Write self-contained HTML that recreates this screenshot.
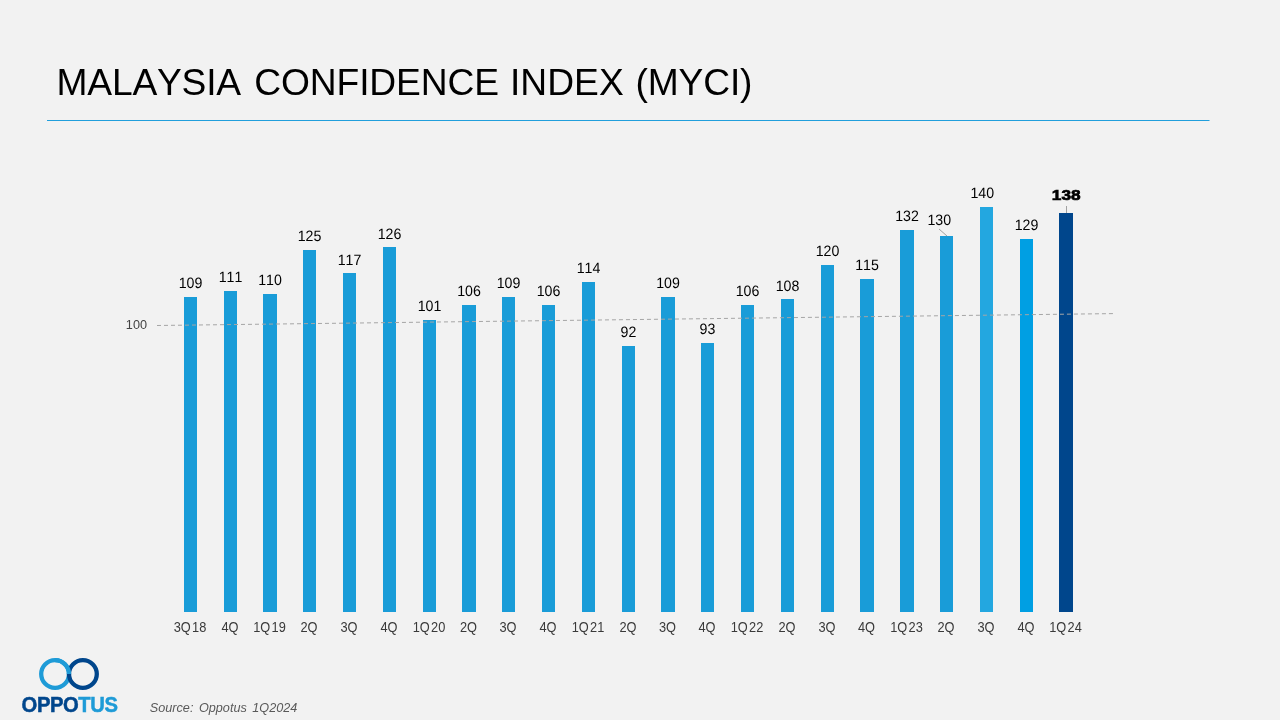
<!DOCTYPE html>
<html><head><meta charset="utf-8"><title>Malaysia Confidence Index (MYCI)</title>
<style>
html,body{margin:0;padding:0;background:#f2f2f2;}
body{width:1280px;height:720px;overflow:hidden;position:relative;font-family:"Liberation Sans",Arial,sans-serif;}
svg{position:absolute;left:0;top:0;display:block}
text{font-family:"Liberation Sans",Arial,sans-serif;font-kerning:none;}
.v{text-rendering:geometricPrecision;font-size:15px;fill:#000;text-anchor:middle}
.vb{font-size:15.4px;font-weight:bold;fill:#000;stroke:#000;stroke-width:0.7px;text-anchor:middle}
.x{font-size:14px;fill:#3a3a3a;text-anchor:middle}
</style></head><body>
<svg width="1280" height="720" viewBox="0 0 1280 720">
<rect width="1280" height="720" fill="#f2f2f2"/>
<text x="56.55" y="95" font-size="37.2" fill="#000"><tspan letter-spacing="-0.2">MALAYSIA</tspan><tspan dx="3.05" letter-spacing="-0.11"> CONFIDENCE</tspan><tspan dx="0.7"> INDEX</tspan><tspan dx="1.6" letter-spacing="-0.15"> (MYCI)</tspan></text>
<rect x="47" y="120" width="1162.5" height="1" fill="#219fdc"/>

<rect x="184" y="297" width="13" height="315" fill="#199cd8"/>
<rect x="224" y="291" width="13" height="321" fill="#199cd8"/>
<rect x="263" y="294" width="14" height="318" fill="#199cd8"/>
<rect x="303" y="250" width="13" height="362" fill="#199cd8"/>
<rect x="343" y="273" width="13" height="339" fill="#199cd8"/>
<rect x="383" y="247" width="13" height="365" fill="#199cd8"/>
<rect x="423" y="320" width="13" height="292" fill="#199cd8"/>
<rect x="462" y="305" width="14" height="307" fill="#199cd8"/>
<rect x="502" y="297" width="13" height="315" fill="#199cd8"/>
<rect x="542" y="305" width="13" height="307" fill="#199cd8"/>
<rect x="582" y="282" width="13" height="330" fill="#199cd8"/>
<rect x="622" y="346" width="13" height="266" fill="#199cd8"/>
<rect x="661" y="297" width="14" height="315" fill="#199cd8"/>
<rect x="701" y="343" width="13" height="269" fill="#199cd8"/>
<rect x="741" y="305" width="13" height="307" fill="#199cd8"/>
<rect x="781" y="299" width="13" height="313" fill="#199cd8"/>
<rect x="821" y="265" width="13" height="347" fill="#199cd8"/>
<rect x="860" y="279" width="14" height="333" fill="#199cd8"/>
<rect x="900" y="230" width="14" height="382" fill="#199cd8"/>
<rect x="940" y="236" width="13" height="376" fill="#199cd8"/>
<rect x="980" y="207" width="13" height="405" fill="#23a7e0"/>
<rect x="1020" y="239" width="13" height="373" fill="#009fe3"/>
<rect x="1059" y="213" width="14" height="399" fill="#00468c"/>
<line x1="157" y1="325.5" x2="1113" y2="313.6" stroke="#a6a6a6" stroke-width="1" stroke-dasharray="4 3"/>
<line x1="939" y1="229" x2="947" y2="236" stroke="#8c8c8c" stroke-width="0.8"/>
<line x1="1066.5" y1="206" x2="1066.5" y2="213" stroke="#8c8c8c" stroke-width="0.8"/>
<text class="v" transform="translate(190.5 287.72) scale(0.945 1)">109</text>
<text class="x" transform="translate(190.0 632) scale(0.915 1)">3Q<tspan dx="1.5">18</tspan></text>
<text class="v" transform="translate(230.5 281.94) scale(0.945 1)">111</text>
<text class="x" transform="translate(230.0 632) scale(0.915 1)">4Q</text>
<text class="v" transform="translate(270.0 284.83) scale(0.945 1)">110</text>
<text class="x" transform="translate(269.5 632) scale(0.915 1)">1Q<tspan dx="1.5">19</tspan></text>
<text class="v" transform="translate(309.5 241.42) scale(0.945 1)">125</text>
<text class="x" transform="translate(309.0 632) scale(0.915 1)">2Q</text>
<text class="v" transform="translate(349.5 264.57) scale(0.945 1)">117</text>
<text class="x" transform="translate(349.0 632) scale(0.915 1)">3Q</text>
<text class="v" transform="translate(389.5 238.53) scale(0.945 1)">126</text>
<text class="x" transform="translate(389.0 632) scale(0.915 1)">4Q</text>
<text class="v" transform="translate(429.5 310.88) scale(0.945 1)">101</text>
<text class="x" transform="translate(429.0 632) scale(0.915 1)">1Q<tspan dx="1.5">20</tspan></text>
<text class="v" transform="translate(469.0 296.41) scale(0.945 1)">106</text>
<text class="x" transform="translate(468.5 632) scale(0.915 1)">2Q</text>
<text class="v" transform="translate(508.5 287.72) scale(0.945 1)">109</text>
<text class="x" transform="translate(508.0 632) scale(0.915 1)">3Q</text>
<text class="v" transform="translate(548.5 296.41) scale(0.945 1)">106</text>
<text class="x" transform="translate(548.0 632) scale(0.915 1)">4Q</text>
<text class="v" transform="translate(588.5 273.25) scale(0.945 1)">114</text>
<text class="x" transform="translate(588.0 632) scale(0.915 1)">1Q<tspan dx="1.5">21</tspan></text>
<text class="v" transform="translate(628.5 336.92) scale(0.945 1)">92</text>
<text class="x" transform="translate(628.0 632) scale(0.915 1)">2Q</text>
<text class="v" transform="translate(668.0 287.72) scale(0.945 1)">109</text>
<text class="x" transform="translate(667.5 632) scale(0.915 1)">3Q</text>
<text class="v" transform="translate(707.5 334.03) scale(0.945 1)">93</text>
<text class="x" transform="translate(707.0 632) scale(0.915 1)">4Q</text>
<text class="v" transform="translate(747.5 296.41) scale(0.945 1)">106</text>
<text class="x" transform="translate(747.0 632) scale(0.915 1)">1Q<tspan dx="1.5">22</tspan></text>
<text class="v" transform="translate(787.5 290.62) scale(0.945 1)">108</text>
<text class="x" transform="translate(787.0 632) scale(0.915 1)">2Q</text>
<text class="v" transform="translate(827.5 255.89) scale(0.945 1)">120</text>
<text class="x" transform="translate(827.0 632) scale(0.915 1)">3Q</text>
<text class="v" transform="translate(867.0 270.36) scale(0.945 1)">115</text>
<text class="x" transform="translate(866.5 632) scale(0.915 1)">4Q</text>
<text class="v" transform="translate(907.0 221.16) scale(0.945 1)">132</text>
<text class="x" transform="translate(906.5 632) scale(0.915 1)">1Q<tspan dx="1.5">23</tspan></text>
<text class="v" transform="translate(939.3 224.98) scale(0.945 1)">130</text>
<text class="x" transform="translate(946.0 632) scale(0.915 1)">2Q</text>
<text class="v" transform="translate(982.3 198.01) scale(0.945 1)">140</text>
<text class="x" transform="translate(986.0 632) scale(0.915 1)">3Q</text>
<text class="v" transform="translate(1026.5 229.84) scale(0.945 1)">129</text>
<text class="x" transform="translate(1026.0 632) scale(0.915 1)">4Q</text>
<text class="vb" transform="translate(1066.25 199.78) scale(1.12 1)">138</text>
<text class="x" transform="translate(1065.5 632) scale(0.915 1)">1Q<tspan dx="1.5">24</tspan></text>
<text x="147" y="329.3" font-size="12.7" fill="#444" text-anchor="end">100</text>
<text x="149.8" y="711.8" font-size="12.67" fill="#595959" font-style="italic" word-spacing="2">Source: Oppotus 1Q2024</text>
<g fill="none" stroke-width="4.3">
<circle cx="55.1" cy="674" r="13.9" stroke="#1e9bd7"/>
<circle cx="82.9" cy="674" r="13.9" stroke="#00468c"/>
<path d="M 69 674 A 13.9 13.9 0 0 0 55.1 660.1" stroke="#1e9bd7"/>
</g>
<text transform="translate(21.6 712.4) scale(0.95 1)" font-size="21.3" font-weight="bold" fill="#00468c" stroke="#00468c" stroke-width="0.5" letter-spacing="-0.45">OPPO<tspan fill="#1e9bd7" stroke="#1e9bd7">TUS</tspan></text>

</svg></body></html>
